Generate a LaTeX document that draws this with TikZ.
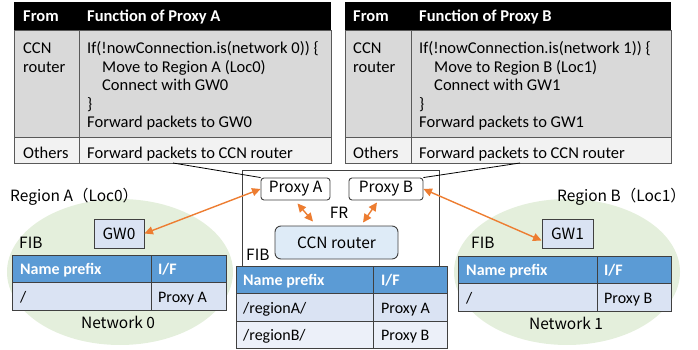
\documentclass[tikz,border=0pt]{standalone}
\usepackage{fontspec}
\setmainfont{Carlito}
\newfontfamily\jpfont{Noto Sans CJK JP}
\usetikzlibrary{arrows.meta}

\definecolor{hdrblue}{RGB}{91,155,213}
\definecolor{cellblue}{RGB}{218,227,243}
\definecolor{cellblueL}{RGB}{236,240,249}
\definecolor{graycell}{RGB}{217,217,217}
\definecolor{graycellL}{RGB}{242,242,242}
\definecolor{regiongreen}{RGB}{228,239,220}
\definecolor{arroworange}{RGB}{237,125,49}
\definecolor{boxblue}{RGB}{222,235,247}
\definecolor{edgegray}{RGB}{64,64,64}
\definecolor{tablegray}{RGB}{89,89,89}

\tikzset{
  codetxt/.style={anchor=base west, inner sep=0pt, font=\fontsize{16.5}{18}\selectfont},
  hdrtxt/.style={codetxt, text=white, font=\fontsize{16.5}{18}\selectfont\bfseries},
  fibtxt/.style={anchor=base west, inner sep=0pt, font=\fontsize{16}{18}\selectfont},
  fibhdr/.style={fibtxt, text=white, font=\fontsize{16}{18}\selectfont\bfseries},
  jplabel/.style={inner sep=0pt, font=\jpfont\fontsize{15.5}{18}\selectfont},
  gwbox/.style={draw=edgegray, line width=0.9pt, fill=cellblue, inner sep=0pt,
    font=\jpfont\fontsize{15.5}{18}\selectfont},
  proxybox/.style={draw=edgegray, line width=0.9pt, fill=white, rounded corners=3pt,
    inner sep=0pt, font=\jpfont\fontsize{15.5}{18}\selectfont},
  grid/.style={draw=edgegray, line width=0.9pt},
  tgrid/.style={draw=tablegray, line width=0.9pt},
  oarrow/.style={draw=arroworange, line width=1.4pt,
    {Triangle[length=8.5pt,width=8pt]}-{Triangle[length=8.5pt,width=8pt]}},
  callout/.style={draw=black, line width=0.8pt}
}

\begin{document}
\begin{tikzpicture}[x=1pt,y=-1pt]
\useasboundingbox (0,0) rectangle (698,350);

% ---------- regions ----------
\fill[regiongreen] (120,272) ellipse [x radius=113, y radius=73];
\fill[regiongreen] (567,272) ellipse [x radius=113, y radius=73];

% ---------- function table of Proxy A ----------
\fill[graycell] (14,30) rectangle (331,137);
\fill[graycellL] (14,137) rectangle (331,163);
\draw[tgrid] (14,30) rectangle (331,163);
\draw[tgrid] (14,137) -- (331,137) (79,30) -- (79,163);
\fill[black] (14,2) rectangle (331,30);
\node[hdrtxt] (ahFrom) at (23,22) {From};
\node[hdrtxt] (ahFun) at (87,22) {Function of Proxy A};
\node[codetxt] (aCCN) at (23,54) {CCN};
\node[codetxt] (aRouter) at (23,73) {router};
\node[codetxt] (aL1) at (87,54) {If(!nowConnection.is(network 0)) \{};
\node[codetxt] (aL2) at (102,72.5) {Move to Region A (Loc0)};
\node[codetxt] (aL3) at (102,91) {Connect with GW0};
\node[codetxt] (aL4) at (87,109.5) {\}};
\node[codetxt] (aL5) at (87,128) {Forward packets to GW0};
\node[codetxt] (aOth) at (23,158) {Others};
\node[codetxt] (aFwd) at (87,158) {Forward packets to CCN router};
\coordinate (aTip) at (173,163);

% ---------- function table of Proxy B ----------
\fill[graycell] (345,30) rectangle (671,137);
\fill[graycellL] (345,137) rectangle (671,163);
\draw[tgrid] (345,30) rectangle (671,163);
\draw[tgrid] (345,137) -- (671,137) (411,30) -- (411,163);
\fill[black] (345,2) rectangle (671,30);
\node[hdrtxt] (bhFrom) at (353,22) {From};
\node[hdrtxt] (bhFun) at (419,22) {Function of Proxy B};
\node[codetxt] (bCCN) at (353,54) {CCN};
\node[codetxt] (bRouter) at (353,73) {router};
\node[codetxt] (bL1) at (419,54) {If(!nowConnection.is(network 1)) \{};
\node[codetxt] (bL2) at (434,72.5) {Move to Region B (Loc1)};
\node[codetxt] (bL3) at (434,91) {Connect with GW1};
\node[codetxt] (bL4) at (419,109.5) {\}};
\node[codetxt] (bL5) at (419,128) {Forward packets to GW1};
\node[codetxt] (bOth) at (353,158) {Others};
\node[codetxt] (bFwd) at (419,158) {Forward packets to CCN router};
\coordinate (bTip) at (520,163);

% ---------- FR box ----------
\draw[grid, fill=white] (242,170) rectangle (439,266);
\node[proxybox, minimum width=69pt, minimum height=22pt] (pxA) at (295.5,189) {Proxy A};
\node[proxybox, minimum width=74pt, minimum height=22pt] (pxB) at (386,189) {Proxy B};
\node[jplabel] (fr) at (339,213) {FR};
\node[proxybox, fill=boxblue, rounded corners=6pt, minimum width=123pt, minimum height=33pt]
  (ccn) at (336.5,242.5) {CCN router};
\node[jplabel, anchor=west] (fibC) at (246,255) {FIB};

% ---------- FIB of the CCN router ----------
\fill[hdrblue] (236,266) rectangle (447,293);
\fill[cellblue] (236,293) rectangle (447,321);
\fill[cellblueL] (236,321) rectangle (447,348);
\draw[grid] (236,266) rectangle (447,348);
\draw[grid] (236,293) -- (447,293) (236,321) -- (447,321) (373,266) -- (373,348);
\node[fibhdr] (cH1) at (243,285) {Name prefix};
\node[fibhdr] (cH2) at (381,285) {I/F};
\node[fibtxt] (cR1a) at (243,313) {/regionA/};
\node[fibtxt] (cR1b) at (381,313) {Proxy A};
\node[fibtxt] (cR2a) at (243,340) {/regionB/};
\node[fibtxt] (cR2b) at (381,340) {Proxy B};

% ---------- Region A ----------
\node[jplabel, anchor=west] (regA) at (10,197) {Region A（Loc0）};
\node[gwbox, minimum width=50pt, minimum height=29pt] (gw0) at (119,233.5) {GW0};
\node[jplabel, anchor=west] (fibA) at (19,243) {FIB};
\fill[hdrblue] (12,255) rectangle (226,282);
\fill[cellblue] (12,282) rectangle (226,310);
\draw[grid] (12,255) rectangle (226,310);
\draw[grid] (12,282) -- (226,282) (151,255) -- (151,310);
\node[fibhdr] (aH1) at (20,274) {Name prefix};
\node[fibhdr] (aH2) at (158,274) {I/F};
\node[fibtxt] (aR1a) at (20,302) {/};
\node[fibtxt] (aR1b) at (158,302) {Proxy A};
\node[jplabel] (netA) at (118,322) {Network 0};

% ---------- Region B ----------
\node[jplabel, anchor=west] (regB) at (557,197) {Region B（Loc1）};
\node[gwbox, minimum width=51pt, minimum height=29pt] (gw1) at (567.5,233.5) {GW1};
\node[jplabel, anchor=west] (fibB) at (471,243) {FIB};
\fill[hdrblue] (458,256) rectangle (671,283);
\fill[cellblue] (458,283) rectangle (671,311);
\draw[grid] (458,256) rectangle (671,311);
\draw[grid] (458,283) -- (671,283) (597,256) -- (597,311);
\node[fibhdr] (bH1) at (466,275) {Name prefix};
\node[fibhdr] (bH2) at (604,275) {I/F};
\node[fibtxt] (bR1a) at (466,303) {/};
\node[fibtxt] (bR1b) at (604,303) {Proxy B};
\node[jplabel] (netB) at (566,323) {Network 1};

% ---------- connectors ----------
\draw[callout] (aTip) -- (pxA.north west);
\draw[callout] (bTip) -- (pxB.north east);
\draw[oarrow] (gw0.east) -- (pxA.west);
\draw[oarrow] (pxB.east) -- ([yshift=-7pt]gw1.west);
\draw[oarrow] ([xshift=2pt,yshift=-3pt]pxA.south) -- ([xshift=-23.5pt,yshift=4pt]ccn.north);
\draw[oarrow] ([xshift=-9pt,yshift=-2pt]pxB.south) -- ([xshift=26.5pt,yshift=3pt]ccn.north);
\end{tikzpicture}
\end{document}
